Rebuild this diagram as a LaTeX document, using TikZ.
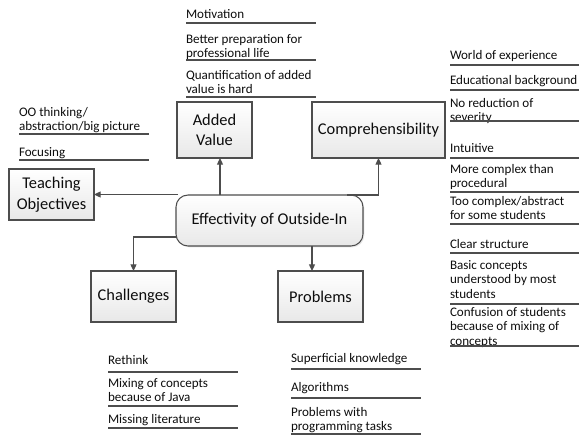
\documentclass[tikz,border=0pt]{standalone}
\usepackage{fontspec}
\setmainfont{Carlito}
\usetikzlibrary{arrows.meta,shadows,calc}
\definecolor{edge}{HTML}{4D4D4D}
\definecolor{txt}{HTML}{0D0D0D}
\newcommand\tp{\rule{0pt}{9pt}}
% name, x, top, underline y, underline length, text
\newcommand\litem[6]{%
  \node[item] (#1) at (#2,#3) {\tp #6};
  \draw[uline] (#1.north west |- 0,#4) -- ++(#5,0);}
\begin{document}
\begin{tikzpicture}[x=0.75pt,y=-0.75pt,
  box/.style={draw=edge, line width=0.8pt, top color=white, bottom color=black!9,
    drop shadow={shadow xshift=1pt,shadow yshift=-1pt,opacity=0.2},
    inner sep=0pt, outer sep=0pt, align=center, font=\fontsize{12.3}{15.5}\selectfont, text=txt},
  rbox/.style={box, rounded corners=9pt},
  item/.style={anchor=north west, inner sep=0pt, outer sep=0pt, align=left,
    font=\fontsize{9.8}{11.1}\selectfont, text=txt},
  uline/.style={draw=edge, line width=0.9pt},
  arr/.style={draw=edge, line width=0.9pt, -{Triangle[length=5pt,width=4.5pt]}},
]
\useasboundingbox (0,0) rectangle (579,436);

% boxes
\node[box, minimum width=63.75pt, minimum height=38.25pt] (teach) at (51.5,194.5) {Teaching\\Objectives};
\node[box, minimum width=56.25pt, minimum height=42pt] (added) at (214.5,130) {Added\\Value};
\node[box, minimum width=99.75pt, minimum height=42pt] (comp) at (378.5,130) {Comprehensibility};
\node[rbox, minimum width=140.25pt, minimum height=38.25pt] (center) at (269.5,220.5) {Effectivity of Outside-In};
\node[box, minimum width=63.75pt, minimum height=38.25pt] (chal) at (133.5,296.5) {Challenges};
\node[box, minimum width=63.75pt, minimum height=38.25pt] (prob) at (320.5,296.5) {Problems};

% connectors
\coordinate (avx) at (220,0);
\coordinate (px) at (312,0);
\draw[arr] (center.north -| avx) -- (added.south -| avx);
\draw[arr] ($(center.north east)+(-16,0)$) -| (comp.south);
\draw[arr] ($(center.west |- teach.east)+(2,0)$) -- (teach.east);
\draw[arr] ($(center.south west)+(0,-9)$) -| (chal.north);
\draw[arr] (center.south -| px) -- (prob.north -| px);

% added value list
\litem{av1}{186}{6}{23}{130}{Motivation}
\litem{av2}{186}{31}{60}{130}{Better preparation for\\professional life}
\litem{av3}{186}{67}{97}{130}{Quantification of added\\value is hard}

% comprehensibility list
\litem{c1}{450}{47}{65}{129}{World of experience}
\litem{c2}{450}{72}{90}{129}{Educational background}
\litem{c3}{450}{95}{121}{129}{No reduction of\\severity}
\litem{c4}{450}{140}{158}{129}{Intuitive}
\litem{c5}{450}{161}{192}{129}{More complex than\\procedural}
\litem{c6}{450}{193}{224}{129}{Too complex/abstract\\for some students}
\litem{c7}{450}{236}{253}{129}{Clear structure}
\litem{c8}{450}{257}{304}{129}{Basic concepts\\understood by most\\students}
\litem{c9}{450}{304}{346}{129}{Confusion of students\\because of mixing of\\concepts}

% teaching objectives list
\litem{t1}{19}{104}{134}{130}{OO thinking/\\abstraction/big picture}
\litem{t2}{19}{144}{160}{130}{Focusing}

% challenges list
\litem{ch1}{108}{352}{372}{130}{Rethink}
\litem{ch2}{108}{375}{406}{130}{Mixing of concepts\\because of Java}
\litem{ch3}{108}{411}{428}{130}{Missing literature}

% problems list
\litem{p1}{291}{350}{369}{130}{Superficial knowledge}
\litem{p2}{291}{379}{398}{130}{Algorithms}
\litem{p3}{291}{404}{434}{130}{Problems with\\programming tasks}
\end{tikzpicture}
\end{document}
